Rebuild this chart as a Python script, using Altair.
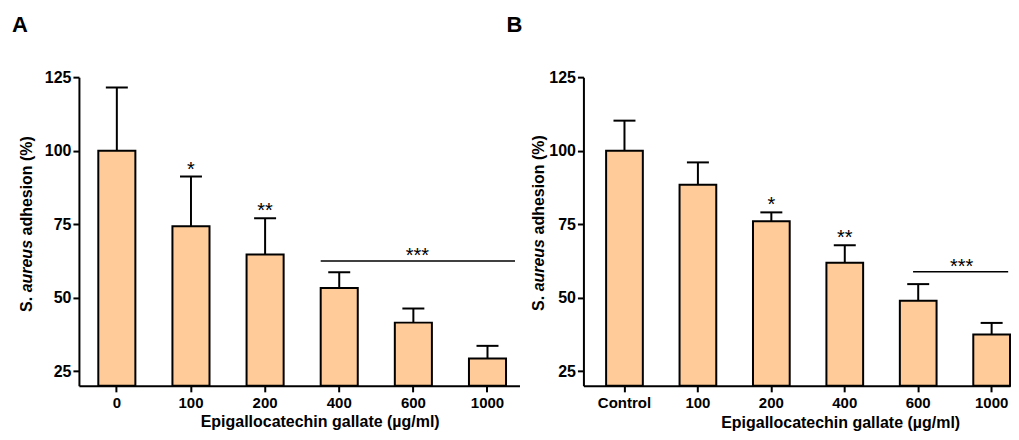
import altair as alt
import pandas as pd

# ---------------- data ----------------
cats_a = ["0", "100", "200", "400", "600", "1000"]
vals_a = [100.0, 74.3, 64.7, 53.3, 41.5, 29.3]
errs_a = [121.5, 91.2, 77.0, 58.6, 46.3, 33.6]
stars_a = ["", "*", "**", "", "", ""]

cats_b = ["Control", "100", "200", "400", "600", "1000"]
vals_b = [100.0, 88.4, 76.0, 61.9, 48.9, 37.5]
errs_b = [110.2, 96.0, 79.0, 67.8, 54.6, 41.4]
stars_b = ["", "", "*", "**", "", ""]

sig_a = {"from": ["400"], "to": ["1000"], "mid": ["600"], "y": [62.5], "label": ["***"]}
sig_b = {"from": ["600"], "to": ["1000"], "mid": ["600"], "y": [58.8], "label": ["***"]}

y_ticks = [25, 50, 75, 100, 125]
x_title = "Epigallocatechin gallate (µg/ml)"

FONT = "Liberation Sans"
FILL = "#FFCC99"
FS = 16
XFS = 15
STAR_FS = 20


def panel(cats, vals, errs, stars, sig, letter, width, pad_outer, align,
          sig_pos, sig_x2off, sig_dx, title_x, title_y, ytitle_x, ytitle_y, letter_x):
    df = pd.DataFrame({"cat": cats, "val": vals, "err": errs, "star": stars})
    xscale = alt.Scale(domain=cats, paddingInner=0.5, paddingOuter=pad_outer, align=align)
    yscale = alt.Scale(domain=[20, 125], zero=False, nice=False)

    x_axis = alt.Axis(
        labelAngle=0, labelFont=FONT, labelFontSize=XFS, labelFontWeight="bold",
        labelColor="black", labelPadding=4, domainColor="black", domainWidth=2,
        tickColor="black", tickWidth=2, tickSize=6, grid=False,
        titleFont=FONT, titleFontSize=FS, titleFontWeight="bold", titleColor="black",
        titleX=title_x, titleY=title_y, titleAlign="center", titleBaseline="alphabetic",
    )
    y_axis = alt.Axis(
        values=y_ticks, labelFont=FONT, labelFontSize=FS, labelFontWeight="bold",
        labelColor="black", labelPadding=2, domainColor="black", domainWidth=2,
        tickColor="black", tickWidth=2, tickSize=6, grid=False, title=None,
    )
    x = alt.X("cat:N", scale=xscale, sort=cats, axis=x_axis, title=x_title)

    base = alt.Chart(df)
    bars = base.mark_bar(fill=FILL, stroke="black", strokeWidth=2).encode(
        x=x, y=alt.Y("val:Q", scale=yscale, axis=y_axis), y2=alt.datum(20)
    )
    err_line = base.mark_rule(color="black", strokeWidth=2).encode(
        x=alt.X("cat:N"), y=alt.Y("val:Q"), y2="err:Q"
    )
    err_cap = base.mark_tick(color="black", size=22, thickness=2, opacity=1).encode(
        x=alt.X("cat:N"), y=alt.Y("err:Q")
    )
    star_txt = base.mark_text(font=FONT, fontSize=STAR_FS, baseline="alphabetic", dy=-1, color="black").encode(
        x=alt.X("cat:N"), y=alt.Y("err:Q"), text="star:N"
    )

    sdf = pd.DataFrame(sig)
    sig_line = alt.Chart(sdf).mark_rule(color="black", strokeWidth=1.5, x2Offset=sig_x2off).encode(
        x=alt.X("from:N", bandPosition=sig_pos[0]),
        x2=alt.X2("to:N", bandPosition=sig_pos[1]),
        y=alt.Y("y:Q"),
    )
    sig_txt = alt.Chart(sdf).mark_text(font=FONT, fontSize=STAR_FS, baseline="alphabetic", dy=1, dx=sig_dx,
                                       color="black").encode(
        x=alt.X("mid:N", bandPosition=sig_pos[2]), y=alt.Y("y:Q"), text="label:N"
    )

    one = pd.DataFrame({"a": [0]})
    s_w = 1.223 * FS   # "S. "
    au_w = 3.557 * FS  # "aureus "
    t1 = alt.Chart(one).mark_text(text="S.", font=FONT, fontSize=FS, fontWeight="bold", angle=270,
                                  align="left", baseline="alphabetic", color="black").encode(
        x=alt.value(ytitle_x), y=alt.value(ytitle_y))
    t2 = alt.Chart(one).mark_text(text="aureus", font=FONT, fontSize=FS, fontWeight="bold", fontStyle="italic",
                                  angle=270, align="left", baseline="alphabetic", color="black").encode(
        x=alt.value(ytitle_x), y=alt.value(ytitle_y - s_w))
    t3 = alt.Chart(one).mark_text(text="adhesion (%)", font=FONT, fontSize=FS, fontWeight="bold", angle=270,
                                  align="left", baseline="alphabetic", color="black").encode(
        x=alt.value(ytitle_x), y=alt.value(ytitle_y - s_w - au_w))
    lab = alt.Chart(one).mark_text(text=letter, font=FONT, fontSize=22, fontWeight="bold",
                                   align="left", baseline="alphabetic", color="black").encode(
        x=alt.value(letter_x), y=alt.value(-45))

    return alt.layer(bars, err_line, err_cap, star_txt, sig_line, sig_txt, t1, t2, t3, lab).properties(
        width=width, height=309
    )


pa = panel(cats_a, vals_a, errs_a, stars_a, sig_a, "A", 441, 0.2215, 0.59,
           (0.0, 1.0, 0.61), 9, 0, 241, 41, -47, 235, -67)
pb = panel(cats_b, vals_b, errs_b, stars_b, sig_b, "B", 427, 0.1545, 1.0,
           (0.36, 0.95, 1.0), 0, 25, 257, 42, -39, 234, -77)

chart = alt.hconcat(pa, pb, spacing=-13).properties(
    padding={"left": 4, "top": 6, "right": 0, "bottom": 0}
).configure_view(stroke=None)

chart.save("out.html", embed_options={"renderer": "svg", "actions": False})
